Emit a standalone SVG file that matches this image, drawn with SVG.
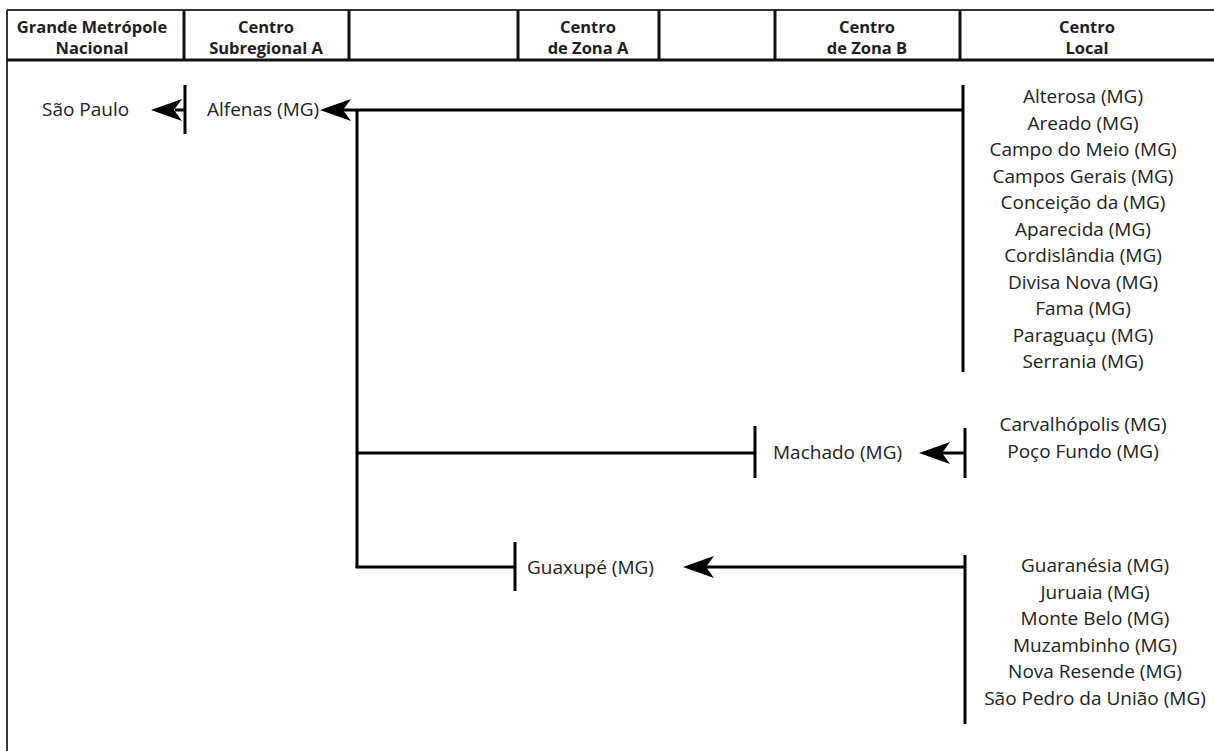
<svg xmlns="http://www.w3.org/2000/svg" width="1214" height="751" viewBox="0 0 1214 751">
<style>
.frame{fill:none;stroke:#333;stroke-width:2}
.div{stroke:#111;stroke-width:3}
.hd{font-family:"Open Sans","DejaVu Sans",sans-serif;font-weight:bold;font-size:16.5px;fill:#1e1e1e;text-anchor:middle}
.lbl{font-family:"Open Sans","DejaVu Sans",sans-serif;font-size:19px;fill:#222}
.mid{text-anchor:middle}
.ln{stroke:#000;stroke-width:3;fill:none}
.ah{fill:#000}
</style>
<defs>
<path id="arrow" d="M0,0 L31,-11 L23,0 L31,11 Z"/>
</defs>
<rect width="1214" height="751" fill="#fff"/>
<g id="header">
<line class="frame" x1="7" y1="10" x2="1214" y2="10"/>
<line class="frame" x1="7" y1="10" x2="7" y2="751"/>
<line class="div" x1="7" y1="60" x2="1214" y2="60"/>
<line class="div" x1="184" y1="10" x2="184" y2="60"/>
<line class="div" x1="349" y1="10" x2="349" y2="60"/>
<line class="div" x1="518" y1="10" x2="518" y2="60"/>
<line class="div" x1="659" y1="10" x2="659" y2="60"/>
<line class="div" x1="775" y1="10" x2="775" y2="60"/>
<line class="div" x1="960" y1="10" x2="960" y2="60"/>
<text class="hd" x="92" y="33">Grande Metrópole</text>
<text class="hd" x="92" y="54">Nacional</text>
<text class="hd" x="266" y="33">Centro</text>
<text class="hd" x="266" y="54">Subregional A</text>
<text class="hd" x="588" y="33">Centro</text>
<text class="hd" x="588" y="54">de Zona A</text>
<text class="hd" x="867" y="33">Centro</text>
<text class="hd" x="867" y="54">de Zona B</text>
<text class="hd" x="1087" y="33">Centro</text>
<text class="hd" x="1087" y="54">Local</text>
</g>
<g id="connectors">
<line class="ln" x1="175" y1="110" x2="185" y2="110"/>
<use href="#arrow" class="ah" x="151" y="110"/>
<line class="ln" x1="185" y1="85" x2="185" y2="134"/>
<use href="#arrow" class="ah" x="320" y="110"/>
<line class="ln" x1="343" y1="110" x2="963" y2="110"/>
<line class="ln" x1="963" y1="85" x2="963" y2="372"/>
<line class="ln" x1="357" y1="110" x2="357" y2="568"/>
<line class="ln" x1="357" y1="453" x2="755" y2="453"/>
<line class="ln" x1="755" y1="426" x2="755" y2="478"/>
<use href="#arrow" class="ah" x="919" y="453"/>
<line class="ln" x1="942" y1="453" x2="965" y2="453"/>
<line class="ln" x1="965" y1="428" x2="965" y2="478"/>
<line class="ln" x1="355.5" y1="567" x2="515" y2="567"/>
<line class="ln" x1="515" y1="542" x2="515" y2="591"/>
<use href="#arrow" class="ah" x="683" y="567"/>
<line class="ln" x1="706" y1="567" x2="965" y2="567"/>
<line class="ln" x1="965" y1="555" x2="965" y2="724"/>
</g>
<g id="sao-paulo"><text class="lbl" x="42" y="116">São Paulo</text></g>
<g id="alfenas"><text class="lbl" x="207" y="116">Alfenas (MG)</text></g>
<g id="machado"><text class="lbl" x="773" y="459">Machado (MG)</text></g>
<g id="guaxupe"><text class="lbl" x="527" y="574">Guaxupé (MG)</text></g>
<g id="locais-alfenas">
<text class="lbl mid" x="1083" y="103">Alterosa (MG)</text>
<text class="lbl mid" x="1083" y="129.5">Areado (MG)</text>
<text class="lbl mid" x="1083" y="156">Campo do Meio (MG)</text>
<text class="lbl mid" x="1083" y="182.5">Campos Gerais (MG)</text>
<text class="lbl mid" x="1083" y="209">Conceição da (MG)</text>
<text class="lbl mid" x="1083" y="235.5">Aparecida (MG)</text>
<text class="lbl mid" x="1083" y="262">Cordislândia (MG)</text>
<text class="lbl mid" x="1083" y="288.5">Divisa Nova (MG)</text>
<text class="lbl mid" x="1083" y="315">Fama (MG)</text>
<text class="lbl mid" x="1083" y="341.5">Paraguaçu (MG)</text>
<text class="lbl mid" x="1083" y="368">Serrania (MG)</text>
</g>
<g id="locais-machado">
<text class="lbl mid" x="1083" y="431">Carvalhópolis (MG)</text>
<text class="lbl mid" x="1083" y="457.5">Poço Fundo (MG)</text>
</g>
<g id="locais-guaxupe">
<text class="lbl mid" x="1095" y="572">Guaranésia (MG)</text>
<text class="lbl mid" x="1095" y="598.5">Juruaia (MG)</text>
<text class="lbl mid" x="1095" y="625">Monte Belo (MG)</text>
<text class="lbl mid" x="1095" y="651.5">Muzambinho (MG)</text>
<text class="lbl mid" x="1095" y="678">Nova Resende (MG)</text>
<text class="lbl mid" x="1095" y="704.5">São Pedro da União (MG)</text>
</g>
</svg>
